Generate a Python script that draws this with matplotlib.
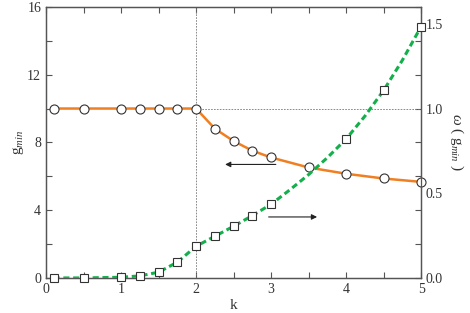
import numpy as np
import matplotlib.pyplot as plt
from matplotlib.ticker import MultipleLocator

plt.rcParams["font.family"] = ["Liberation Serif", "DejaVu Serif"]
plt.rcParams["mathtext.fontset"] = "custom"
plt.rcParams["mathtext.rm"] = "Liberation Serif"
plt.rcParams["mathtext.it"] = "Liberation Serif:italic"

# datos
k_g = [0.1, 0.5, 1.0, 1.25, 1.5, 1.75, 2.0, 2.25, 2.5, 2.75, 3.0, 3.5, 4.0, 4.5, 5.0]
g_min = [10, 10, 10, 10, 10, 10, 10, 8.81, 8.08, 7.51, 7.11, 6.52, 6.15, 5.87, 5.67]

k_w = [0.1, 0.5, 1.0, 1.25, 1.5, 1.75, 2.0, 2.25, 2.5, 2.75, 3.0, 4.0, 4.5, 5.0]
omega = [0.0, 0.0, 0.004, 0.012, 0.034, 0.093, 0.187, 0.246, 0.305, 0.368, 0.435, 0.82, 1.107, 1.484]

# puntos extra de la curva verde (sin marcador)
k_w_linea = [0.1, 0.5, 1.0, 1.25, 1.5, 1.75, 2.0, 2.25, 2.5, 2.75, 3.0, 3.25, 3.5, 3.75, 4.0, 4.25, 4.5, 4.75, 5.0]
omega_linea = [0.0, 0.0, 0.004, 0.012, 0.034, 0.093, 0.187, 0.246, 0.305, 0.368, 0.435, 0.52, 0.61, 0.71, 0.82, 0.955, 1.107, 1.285, 1.484]

naranja = "#F07F22"
verde = "#12B04A"
gris = "#555555"

fig = plt.figure(figsize=(4.7, 3.13), dpi=100)
ax = fig.add_axes([0.098, 0.112, 0.798, 0.866])
ax2 = ax.twinx()

# lineas guia
ax.plot([2, 2], [0, 16], color="#777777", lw=0.6, ls=(0, (2, 1.5)))
ax.plot([2, 5], [10, 10], color="#777777", lw=0.6, ls=(0, (2, 1.5)))

ax.plot(k_g, g_min, color=naranja, lw=1.8, zorder=3)
ax.plot(k_g, g_min, "o", ms=6.5, mfc="white", mec="#333333", mew=0.8, zorder=5, clip_on=False)

ax2.plot(k_w_linea, omega_linea, color=verde, lw=2.2, ls=(0, (2, 1.2)), zorder=3)
ax2.plot(k_w, omega, "s", ms=5.5, mfc="white", mec="#333333", mew=0.8, zorder=5, clip_on=False)

# flechas
ax.annotate("", xy=(2.35, 6.7), xytext=(3.1, 6.7),
            arrowprops=dict(arrowstyle="-|>", color="#222222", lw=0.8, mutation_scale=8))
ax.annotate("", xy=(3.65, 3.6), xytext=(2.93, 3.6),
            arrowprops=dict(arrowstyle="-|>", color="#222222", lw=0.8, mutation_scale=8))

ax.set_xlim(0, 5)
ax.set_ylim(0, 16)
ax2.set_ylim(0, 1.6)

ax.xaxis.set_major_locator(MultipleLocator(1))
ax.xaxis.set_minor_locator(MultipleLocator(0.5))
ax.yaxis.set_major_locator(MultipleLocator(4))
ax.yaxis.set_minor_locator(MultipleLocator(2))
ax2.yaxis.set_major_locator(MultipleLocator(0.5))
ax2.yaxis.set_major_formatter(plt.FormatStrFormatter("%.1f"))

ax.tick_params(which="both", direction="in", top=True, right=True, colors=gris,
               labelcolor="#333333", labelsize=10, length=4, width=0.8)
ax2.tick_params(which="both", direction="in", colors=gris, labelcolor="#333333", labelsize=10, length=0)

for a in (ax, ax2):
    for s in a.spines.values():
        s.set_color(gris)
        s.set_linewidth(0.9)

ax.set_xlabel("k", fontsize=11, color="#333333", labelpad=2)
ax.set_ylabel(r"g$_{\mathit{min}}$", fontsize=11, color="#333333", labelpad=1)
ax2.set_ylabel(r"$\omega$ ( g$_{\mathit{min}}$ )", fontsize=11, color="#333333", rotation=-90, labelpad=16)

fig.savefig("out.png", dpi=100)
